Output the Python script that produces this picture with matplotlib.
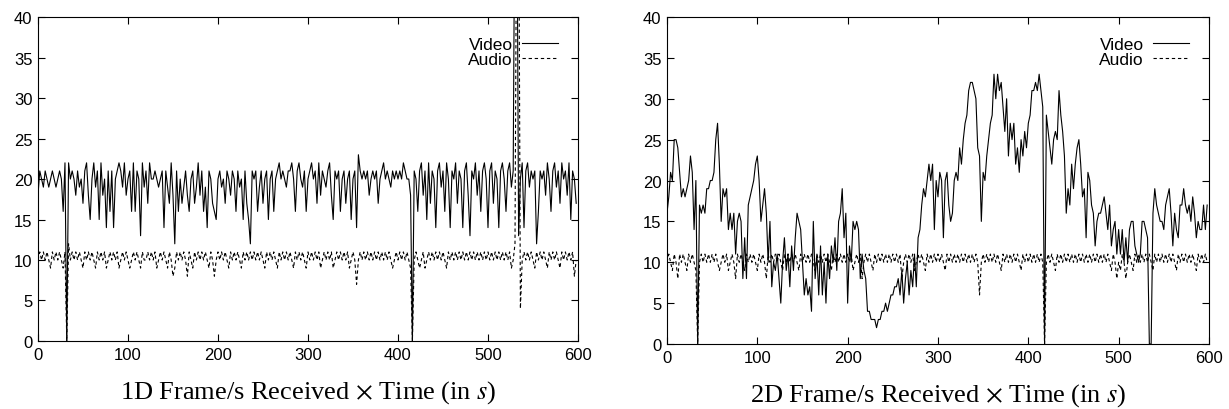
import numpy as np
import matplotlib.pyplot as plt

plt.rcParams['mathtext.fontset'] = 'stix'

# time axis, one sample every 2 s
t = np.arange(0, 600, 2)

# 1D: frames/s received
video_1d = [
    18, 21, 20, 19, 21, 20, 19, 20, 21, 20, 19, 20, 21, 20, 16, 22, 0, 22, 20, 21,
    20, 18, 21, 19, 20, 17, 21, 22, 18, 15, 20, 22, 19, 21, 15, 22, 18, 20, 14, 21,
    16, 21, 14, 20, 21, 22, 21, 19, 22, 18, 20, 21, 16, 22, 16, 21, 20, 13, 22, 19,
    21, 17, 22, 20, 20, 21, 20, 19, 20, 21, 14, 21, 19, 17, 22, 18, 12, 21, 16, 20,
    17, 19, 21, 18, 16, 20, 21, 17, 19, 22, 18, 21, 16, 19, 14, 21, 20, 17, 16, 15,
    20, 21, 19, 20, 17, 21, 20, 18, 21, 20, 16, 21, 19, 20, 15, 21, 17, 15, 12, 21,
    20, 21, 16, 19, 21, 17, 20, 21, 15, 20, 21, 16, 20, 21, 22, 20, 21, 20, 19, 21,
    21, 22, 20, 16, 21, 22, 20, 19, 21, 16, 20, 21, 22, 20, 21, 17, 22, 18, 21, 20,
    19, 21, 22, 18, 15, 21, 20, 21, 16, 20, 21, 17, 20, 21, 15, 20, 21, 14, 23, 21,
    20, 21, 20, 21, 18, 20, 21, 20, 21, 17, 20, 21, 22, 20, 21, 20, 19, 21, 20, 21,
    20, 21, 20, 22, 21, 20, 20, 18, 0, 21, 20, 16, 21, 22, 18, 21, 15, 22, 17, 21,
    20, 14, 21, 22, 19, 21, 16, 22, 20, 14, 21, 20, 22, 17, 21, 20, 14, 21, 22, 18,
    13, 21, 20, 22, 18, 21, 16, 21, 22, 20, 14, 21, 22, 17, 21, 20, 14, 21, 22, 20,
    16, 21, 22, 19, 21, 60, 60, 13, 20, 22, 14, 21, 22, 19, 21, 20, 21, 12, 16, 21,
    20, 21, 18, 22, 20, 16, 21, 22, 19, 21, 17, 22, 20, 21, 18, 22, 15, 21, 20, 17,
]
audio_1d = [
    10, 11, 10, 11, 10, 11, 10, 9, 11, 10, 11, 10, 11, 10, 9, 11, 0, 12, 10, 11,
    10, 11, 10, 11, 10, 9, 11, 10, 11, 10, 11, 10, 9, 11, 10, 11, 10, 11, 9, 10,
    11, 10, 11, 10, 11, 9, 10, 11, 10, 11, 10, 9, 10, 11, 10, 11, 10, 9, 11, 10,
    10, 11, 10, 11, 10, 11, 9, 10, 11, 10, 11, 10, 9, 11, 10, 8, 9, 11, 10, 11,
    10, 11, 10, 8, 11, 10, 9, 11, 10, 11, 10, 11, 10, 11, 10, 9, 11, 10, 8, 10,
    11, 10, 11, 10, 11, 10, 9, 11, 10, 11, 10, 11, 10, 9, 11, 10, 11, 10, 11, 10,
    11, 10, 11, 10, 11, 10, 9, 11, 10, 11, 10, 11, 10, 9, 11, 10, 11, 10, 11, 10,
    11, 10, 9, 11, 10, 11, 10, 11, 10, 9, 11, 10, 11, 10, 11, 10, 11, 9, 10, 11,
    10, 11, 10, 11, 9, 10, 11, 10, 11, 10, 11, 10, 11, 9, 10, 11, 10, 7, 10, 11,
    10, 11, 10, 11, 10, 11, 10, 11, 10, 11, 10, 11, 10, 11, 10, 11, 10, 9, 10, 11,
    10, 11, 10, 11, 10, 11, 10, 9, 0, 10, 11, 10, 9, 10, 11, 9, 10, 11, 10, 11,
    10, 11, 10, 11, 10, 11, 10, 9, 11, 10, 11, 10, 11, 10, 11, 10, 11, 10, 11, 10,
    11, 10, 11, 10, 11, 10, 11, 10, 11, 10, 11, 10, 11, 10, 11, 10, 11, 10, 11, 10,
    11, 10, 11, 9, 10, 12, 60, 60, 4, 10, 11, 10, 11, 10, 11, 10, 9, 11, 10, 11,
    10, 11, 10, 9, 11, 10, 11, 10, 11, 10, 9, 11, 10, 11, 10, 11, 10, 11, 8, 10,
]

# 2D: frames/s received
video_2d = [
    16, 18, 21, 20, 25, 25, 24, 21, 18, 19, 18, 19, 20, 23, 21, 14, 20, 0, 17, 16,
    17, 16, 19, 19, 20, 20, 21, 25, 27, 22, 15, 19, 18, 19, 14, 16, 14, 16, 11, 15,
    16, 15, 8, 13, 8, 17, 18, 19, 20, 22, 23, 20, 15, 17, 19, 16, 10, 15, 7, 10,
    9, 11, 8, 5, 10, 13, 9, 11, 7, 12, 9, 13, 16, 15, 14, 10, 6, 8, 6, 7,
    4, 15, 8, 11, 6, 12, 6, 10, 5, 11, 8, 12, 10, 13, 9, 15, 16, 19, 13, 16,
    5, 12, 10, 15, 14, 15, 14, 8, 11, 9, 8, 4, 4, 3, 3, 3, 2, 3, 3, 4,
    4, 5, 4, 5, 6, 6, 7, 7, 8, 6, 9, 5, 8, 10, 6, 9, 7, 11, 7, 13,
    14, 17, 19, 18, 20, 22, 20, 22, 14, 20, 18, 21, 20, 13, 20, 21, 17, 15, 16, 20,
    21, 20, 24, 22, 25, 27, 28, 31, 32, 32, 31, 30, 24, 23, 15, 21, 20, 23, 25, 27,
    28, 33, 30, 33, 31, 32, 29, 26, 30, 23, 27, 25, 27, 22, 24, 21, 25, 23, 26, 24,
    27, 28, 31, 31, 32, 31, 33, 31, 29, 0, 28, 26, 24, 22, 25, 26, 25, 31, 28, 26,
    23, 16, 19, 17, 22, 19, 22, 24, 25, 22, 18, 19, 13, 21, 20, 17, 16, 12, 15, 16,
    16, 17, 18, 16, 14, 17, 12, 14, 15, 11, 14, 11, 14, 10, 13, 10, 14, 15, 15, 12,
    11, 10, 11, 15, 15, 14, 13, 0, 0, 16, 19, 17, 16, 15, 15, 14, 17, 18, 19, 16,
    12, 16, 14, 13, 17, 17, 19, 17, 16, 17, 15, 18, 16, 13, 15, 14, 14, 17, 14, 17,
]
audio_2d = [
    10, 11, 10, 9, 11, 10, 8, 11, 10, 11, 10, 9, 11, 10, 11, 10, 9, 0, 10, 11,
    10, 11, 10, 11, 10, 11, 10, 11, 10, 9, 10, 11, 10, 11, 9, 10, 11, 10, 8, 11,
    10, 11, 10, 9, 11, 10, 11, 10, 11, 10, 9, 11, 10, 11, 10, 8, 11, 10, 11, 10,
    11, 10, 11, 10, 9, 11, 10, 11, 10, 11, 10, 11, 10, 9, 11, 10, 11, 10, 11, 10,
    11, 10, 9, 11, 10, 11, 10, 11, 10, 11, 10, 9, 11, 10, 11, 10, 11, 10, 11, 10,
    11, 10, 11, 9, 10, 11, 10, 11, 8, 10, 11, 10, 11, 10, 9, 11, 10, 11, 10, 11,
    10, 11, 10, 11, 10, 11, 10, 11, 10, 11, 8, 10, 11, 10, 11, 10, 11, 9, 10, 11,
    10, 11, 10, 9, 11, 10, 11, 10, 11, 10, 11, 10, 11, 10, 9, 11, 10, 11, 10, 11,
    10, 11, 10, 11, 10, 11, 10, 11, 10, 11, 10, 11, 10, 6, 10, 11, 10, 11, 10, 11,
    10, 11, 10, 11, 10, 9, 11, 10, 11, 10, 11, 10, 11, 10, 11, 10, 9, 11, 10, 11,
    10, 11, 10, 11, 10, 11, 10, 11, 10, 0, 10, 11, 10, 11, 10, 9, 11, 10, 11, 10,
    11, 10, 11, 10, 11, 10, 11, 10, 11, 10, 11, 10, 11, 10, 11, 10, 11, 10, 11, 10,
    11, 10, 11, 10, 11, 10, 9, 11, 10, 8, 10, 9, 11, 10, 8, 10, 11, 10, 9, 11,
    10, 11, 10, 11, 10, 11, 10, 11, 10, 9, 11, 10, 11, 10, 11, 10, 11, 10, 11, 10,
    11, 10, 9, 11, 10, 11, 10, 11, 10, 11, 10, 11, 10, 9, 11, 10, 11, 10, 11, 10,
]

titles = [r'1D Frame/s Received $\times$ Time (in $s$)',
          r'2D Frame/s Received $\times$ Time (in $s$)']

fig = plt.figure(figsize=(12.29, 4.10), dpi=100)
ax1 = fig.add_axes([0.0309, 0.1659, 0.4394, 0.790])
ax2 = fig.add_axes([0.5427, 0.1585, 0.4410, 0.7976])

for ax, video, audio, title in [(ax1, video_1d, audio_1d, titles[0]),
                                (ax2, video_2d, audio_2d, titles[1])]:
    ax.plot(t, video, color='black', linewidth=0.8, label='Video')
    ax.plot(t, audio, color='black', linewidth=0.8, dashes=(3, 2.5), label='Audio')
    ax.set_xlim(0, 600)
    ax.set_ylim(0, 40)
    ax.set_xticks(range(0, 601, 100))
    ax.set_yticks(range(0, 41, 5))
    ax.tick_params(direction='in', top=True, right=True, length=5, width=0.8,
                   labelsize=12, pad=4)
    for lbl in ax.get_xticklabels() + ax.get_yticklabels():
        lbl.set_fontfamily('Liberation Sans')
    for s in ax.spines.values():
        s.set_linewidth(0.8)
    leg = ax.legend(loc='upper right', frameon=False, markerfirst=False,
                    handlelength=2.1, handletextpad=0.5, labelspacing=0.0,
                    borderaxespad=0.75, prop={'family': 'Liberation Sans', 'size': 12.5})
    for txt in leg.get_texts():
        txt.set_horizontalalignment('right')
    ax.set_xlabel(title, fontfamily='Liberation Serif', fontsize=19, labelpad=12)

fig.savefig('out.png', dpi=100)
